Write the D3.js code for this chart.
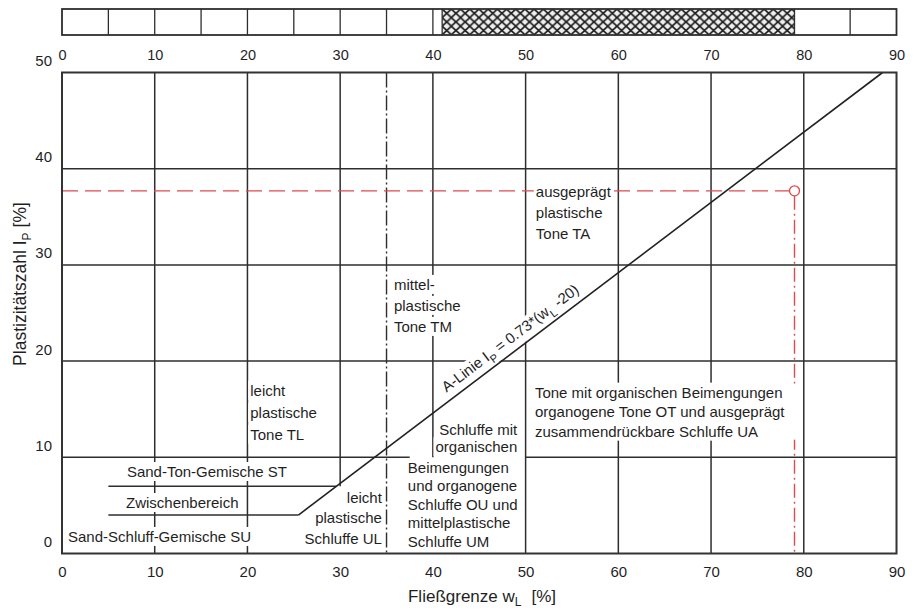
<!DOCTYPE html>
<html><head><meta charset="utf-8">
<script src="https://cdn.jsdelivr.net/npm/d3@7/dist/d3.min.js"></script>
<style>
html,body{margin:0;padding:0;background:#fff;}
svg{display:block;}
</style></head>
<body>
<svg id="chart" width="921" height="612"></svg>
<script>
// ---------------- data ----------------
const xTicks = [0, 10, 20, 30, 40, 50, 60, 70, 80, 90];
const yTicks = [0, 10, 20, 30, 40, 50];
const xDomain = [0, 90];
const yDomain = [0, 50];
const barDividers = [5, 10, 15, 20, 25, 30, 35, 40, 85];
const wLBand = [41, 79];
// vertical grid: [wL, IP from, IP to]
const vGrid = [[10, 0, 50], [20, 0, 50], [30, 7, 50], [40, 10, 50], [50, 0, 50], [60, 0, 50], [70, 0, 50], [80, 0, 50]];
// horizontal grid: [IP, wL from, wL to]
const hGrid = [[10, 0, 37.5], [10, 50, 90], [20, 0, 90], [30, 0, 90], [40, 0, 90]];
const midLineWL = 35;
const lineST = [[5, 7], [29.6, 7]];
const lineSU = [[5, 4], [25.5, 4]];
const aLine = [[25.5, 4], [88.5, 50]];
const sample = { wL: 79, ip: 37.7 };

const labelTA = ['ausgeprägt', 'plastische', 'Tone TA'];
const labelTM = ['mittel-', 'plastische', 'Tone TM'];
const labelTL = ['leicht', 'plastische', 'Tone TL'];
const labelOT = ['Tone mit organischen Beimengungen', 'organogene Tone OT und ausgeprägt', 'zusammendrückbare Schluffe UA'];
const labelOU1 = ['Schluffe mit', 'organischen'];
const labelOU2 = ['Beimengungen', 'und organogene', 'Schluffe OU und', 'mittelplastische', 'Schluffe UM'];
const labelST = ['Sand-Ton-Gemische ST'];
const labelZW = ['Zwischenbereich'];
const labelSU = ['Sand-Schluff-Gemische SU'];
const labelUL = ['leicht', 'plastische', 'Schluffe UL'];
const xTitle = ['Fließgrenze w', 'L', '[%]'];
const yTitle = ['Plastizitätszahl I', 'P', '[%]'];
const aTitle = ['A-Linie I', 'P', ' = 0.73*(w', 'L', ' -20)'];

// ---------------- layout ----------------
const FONT = '"Liberation Sans", Arial, Helvetica, sans-serif';
const INK = '#2e2e2e';
const TXT = '#1f1f1f';
const RED = '#de4a4e';
const svg = d3.select('#chart');
const x = d3.scaleLinear().domain(xDomain).range([62, 896.5]);
const y = d3.scaleLinear().domain(yDomain).range([553.5, 72.5]);
const line = d3.line().x(d => x(d[0])).y(d => y(d[1]));

// ---------- top bar ----------
const barTop = 9, barBot = 35;
const defs = svg.append('defs');
const pat = defs.append('pattern').attr('id', 'xh').attr('patternUnits', 'userSpaceOnUse')
  .attr('x', x(wLBand[0])).attr('y', barTop).attr('width', 9.2).attr('height', 8.6);
pat.append('rect').attr('width', 9.2).attr('height', 8.6).attr('fill', '#efefef');
pat.append('path').attr('d', 'M0,0L9.2,8.6M9.2,0L0,8.6').attr('stroke', '#1c1c1c').attr('stroke-width', 1.6);

const barG = svg.append('g');
barG.append('rect').attr('x', x(wLBand[0])).attr('y', barTop)
  .attr('width', x(wLBand[1]) - x(wLBand[0])).attr('height', barBot - barTop).attr('fill', 'url(#xh)');
barG.selectAll('line.div').data(barDividers.concat(wLBand)).join('line').attr('class', 'div')
  .attr('x1', d => x(d)).attr('x2', d => x(d)).attr('y1', barTop).attr('y2', barBot)
  .attr('stroke', INK).attr('stroke-width', 1.3);
barG.append('rect').attr('x', x(0)).attr('y', barTop).attr('width', x(90) - x(0)).attr('height', barBot - barTop)
  .attr('fill', 'none').attr('stroke', INK).attr('stroke-width', 1.8);

const topAxis = svg.append('g').attr('transform', `translate(0,${barBot})`)
  .call(d3.axisBottom(x).tickValues(xTicks).tickSize(0).tickPadding(15).tickFormat(d3.format('d')));
topAxis.select('.domain').remove();
topAxis.selectAll('text').attr('font-family', FONT).attr('font-size', 14.5).attr('fill', TXT);

// ---------- layers ----------
const gridG = svg.append('g');
const redG = svg.append('g');
const knockG = svg.append('g');
const aG = svg.append('g');
const frameG = svg.append('g');
const textG = svg.append('g').attr('font-family', FONT).attr('font-size', 15).attr('fill', TXT);

// grid
gridG.selectAll('line.v').data(vGrid).join('line').attr('class', 'v')
  .attr('x1', d => x(d[0])).attr('x2', d => x(d[0])).attr('y1', d => y(d[1])).attr('y2', d => y(d[2]))
  .attr('stroke', INK).attr('stroke-width', 1.5);
gridG.selectAll('line.h').data(hGrid).join('line').attr('class', 'h')
  .attr('y1', d => y(d[0])).attr('y2', d => y(d[0])).attr('x1', d => x(d[1])).attr('x2', d => x(d[2]))
  .attr('stroke', INK).attr('stroke-width', 1.5);
gridG.append('line').attr('x1', x(midLineWL)).attr('x2', x(midLineWL)).attr('y1', y(50)).attr('y2', y(0))
  .attr('stroke', INK).attr('stroke-width', 1.4).attr('stroke-dasharray', '15,3,2,3');
gridG.selectAll('path.b').data([lineST, lineSU]).join('path').attr('class', 'b')
  .attr('d', line).attr('fill', 'none').attr('stroke', INK).attr('stroke-width', 1.5);

// red reading lines
redG.append('line').attr('x1', x(0)).attr('x2', x(sample.wL) - 5).attr('y1', y(sample.ip)).attr('y2', y(sample.ip))
  .attr('stroke', RED).attr('stroke-width', 1.3).attr('stroke-dasharray', '16,7');
redG.append('line').attr('x1', x(sample.wL)).attr('x2', x(sample.wL)).attr('y1', y(sample.ip) + 5).attr('y2', y(0))
  .attr('stroke', RED).attr('stroke-width', 1.4).attr('stroke-dasharray', '14,4,2,4');

// A-line
aG.append('path').datum(aLine).attr('d', line).attr('fill', 'none').attr('stroke', '#222').attr('stroke-width', 1.6);
aG.append('circle').attr('cx', x(sample.wL)).attr('cy', y(sample.ip)).attr('r', 5)
  .attr('fill', 'none').attr('stroke', RED).attr('stroke-width', 1.3);

// frame
frameG.append('rect').attr('x', x(0)).attr('y', y(50)).attr('width', x(90) - x(0)).attr('height', y(0) - y(50))
  .attr('fill', 'none').attr('stroke', '#333').attr('stroke-width', 2);

// axes
const xAxis = svg.append('g').attr('transform', `translate(0,${y(0)})`)
  .call(d3.axisBottom(x).tickValues(xTicks).tickSize(0).tickPadding(13).tickFormat(d3.format('d')));
xAxis.select('.domain').remove();
xAxis.selectAll('text').attr('font-family', FONT).attr('font-size', 15).attr('fill', TXT);

const yAxis = svg.append('g').attr('transform', `translate(${x(0)},0)`)
  .call(d3.axisLeft(y).tickValues(yTicks).tickSize(0).tickPadding(10).tickFormat(d3.format('d')));
yAxis.select('.domain').remove();
yAxis.selectAll('text').attr('font-family', FONT).attr('font-size', 15).attr('fill', TXT).attr('dy', -7);

// ---------- text blocks with white knock-out ----------
function block(lines, at, lh, anchor, extraRight) {
  const g = textG.append('g');
  const nodes = lines.map((t, i) => g.append('text').attr('x', x(at[0])).attr('y', y(at[1]) + i * lh)
    .attr('text-anchor', anchor).text(t));
  nodes.forEach(n => {
    const b = n.node().getBBox();
    knockG.append('rect').attr('x', b.x - 2).attr('y', b.y - 1).attr('width', b.width + 4).attr('height', b.height + 2).attr('fill', '#fff');
  });
  if (extraRight) {
    const b = g.node().getBBox();
    knockG.append('rect').attr('x', b.x - 2).attr('y', b.y).attr('width', extraRight - b.x + 2).attr('height', b.height).attr('fill', '#fff');
  }
  return g;
}
block(labelTA, [51.1, 37.05], 21, 'start');
block(labelTM, [35.8, 27.4], 21, 'start');
block(labelTL, [20.3, 16.4], 22, 'start');
block(labelOT, [51.0, 16.2], 19.5, 'start', x(sample.wL) + 4);
block(labelOU1, [49.1, 12.3], 17, 'end');
block(labelOU2, [37.3, 8.37], 18.5, 'start');
block(labelST, [7.0, 7.95], 0, 'start');
block(labelZW, [6.9, 4.73], 0, 'start');
block(labelSU, [0.65, 1.2], 0, 'start');
block(labelUL, [34.5, 5.25], 20.5, 'end');

// A-line label (rotated along line)
const ang = Math.atan2(y(aLine[1][1]) - y(aLine[0][1]), x(aLine[1][0]) - x(aLine[0][0])) * 180 / Math.PI;
const t0 = (42.0 - aLine[0][0]) / (aLine[1][0] - aLine[0][0]);
const px0 = x(aLine[0][0]) + t0 * (x(aLine[1][0]) - x(aLine[0][0]));
const py0 = y(aLine[0][1]) + t0 * (y(aLine[1][1]) - y(aLine[0][1]));
const tf = `translate(${px0},${py0}) rotate(${ang})`;
const aLab = textG.append('text').attr('transform', tf).attr('x', 0).attr('y', -8).attr('font-size', 15);
aLab.append('tspan').text(aTitle[0]);
aLab.append('tspan').attr('dy', 5).attr('font-size', 11).text(aTitle[1]);
aLab.append('tspan').attr('dy', -5).text(aTitle[2]);
aLab.append('tspan').attr('dy', 5).attr('font-size', 11).text(aTitle[3]);
aLab.append('tspan').attr('dy', -5).text(aTitle[4]);
{
  const b = aLab.node().getBBox();
  knockG.append('rect').attr('transform', tf).attr('x', b.x - 2).attr('y', b.y).attr('width', b.width + 4).attr('height', b.height).attr('fill', '#fff');
}

// axis titles
const xt = textG.append('text').attr('x', 482).attr('y', 602).attr('text-anchor', 'middle').attr('font-size', 17);
xt.append('tspan').text(xTitle[0]);
xt.append('tspan').attr('dy', 4).attr('font-size', 12).text(xTitle[1]);
xt.append('tspan').attr('dy', -4).attr('dx', 10).text(xTitle[2]);

const yt = textG.append('text').attr('transform', 'translate(26,284) rotate(-90)').attr('text-anchor', 'middle').attr('font-size', 17.5);
yt.append('tspan').text(yTitle[0]);
yt.append('tspan').attr('dy', 5).attr('font-size', 12).text(yTitle[1]);
yt.append('tspan').attr('dy', -5).attr('dx', 5).text(yTitle[2]);
</script>
</body></html>
